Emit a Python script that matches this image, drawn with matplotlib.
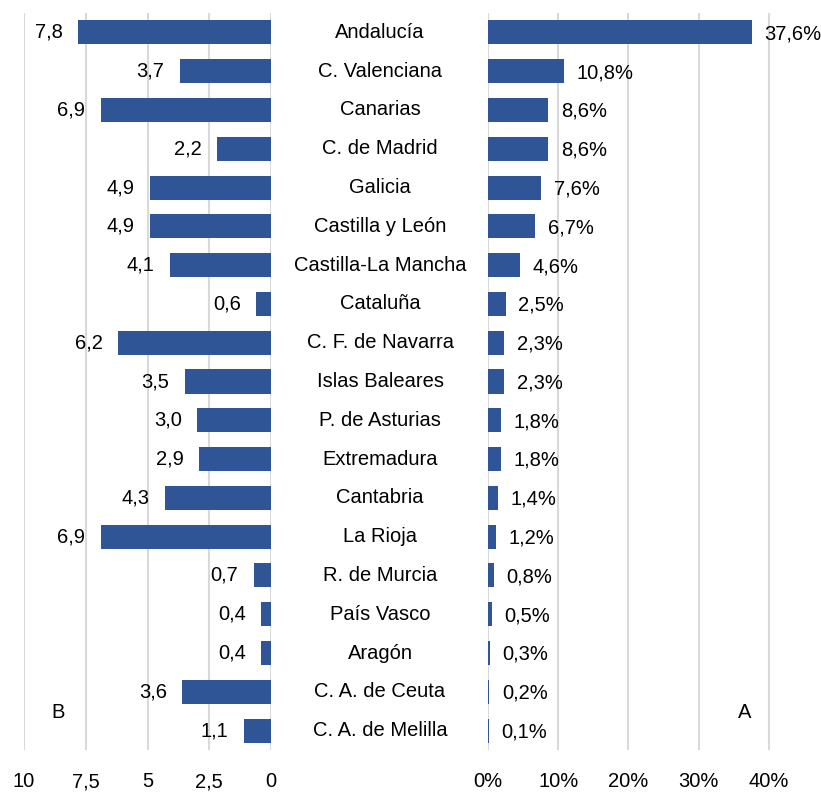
import matplotlib.pyplot as plt
import matplotlib.transforms as mtransforms

plt.rcParams['font.family'] = ['Liberation Sans', 'DejaVu Sans']

regions = ["Andalucía", "C. Valenciana", "Canarias", "C. de Madrid", "Galicia",
           "Castilla y León", "Castilla-La Mancha", "Cataluña", "C. F. de Navarra",
           "Islas Baleares", "P. de Asturias", "Extremadura", "Cantabria", "La Rioja",
           "R. de Murcia", "País Vasco", "Aragón", "C. A. de Ceuta", "C. A. de Melilla"]
val_b = [7.8, 3.7, 6.9, 2.2, 4.9, 4.9, 4.1, 0.6, 6.2, 3.5, 3.0, 2.9, 4.3, 6.9,
         0.7, 0.4, 0.4, 3.6, 1.1]
val_a = [37.6, 10.8, 8.6, 8.6, 7.6, 6.7, 4.6, 2.5, 2.3, 2.3, 1.8, 1.8, 1.4, 1.2,
         0.8, 0.5, 0.3, 0.2, 0.1]
ticks_b = [10, 7.5, 5, 2.5, 0]
ticks_a = [0, 10, 20, 30, 40]

bar_col = '#2F5597'
grid_col = '#D9D9D9'
fs = 14.5

fig = plt.figure(figsize=(8.21, 7.92), dpi=100)
bottom = 1 - 750 / 792
height = 737 / 792
axb = fig.add_axes([24 / 821, bottom, 247 / 821, height])
axa = fig.add_axes([488 / 821, bottom, 309 / 821, height])

y = list(range(len(regions)))

axb.barh(y, val_b, height=0.62, color=bar_col)
axb.set_xlim(10, 0)
axb.set_xticks(ticks_b)
axb.set_xticklabels([str(t).replace('.', ',') for t in ticks_b])
for yi, v in zip(y, val_b):
    axb.annotate(f"{v:.1f}".replace('.', ','), (v, yi), xytext=(-11, 0),
                 textcoords='offset points', ha='right', va='center', fontsize=fs)

axa.barh(y, val_a, height=0.62, color=bar_col)
axa.set_xlim(0, 44)
axa.set_xticks(ticks_a)
axa.set_xticklabels([f"{t}%" for t in ticks_a])
for yi, v in zip(y, val_a):
    axa.annotate(f"{v:.1f}%".replace('.', ','), (v, yi), xytext=(9, -1),
                 textcoords='offset points', ha='left', va='center', fontsize=fs)

for ax in (axb, axa):
    ax.set_ylim(len(regions) - 0.5, -0.5)
    ax.set_yticks([])
    for s in ax.spines.values():
        s.set_visible(False)
    ax.grid(axis='x', color=grid_col, linewidth=1.5)
    ax.set_axisbelow(True)
    ax.tick_params(axis='x', length=0, labelsize=fs, pad=16)

# region names in the middle
trans = mtransforms.blended_transform_factory(fig.transFigure, axb.transData)
for yi, name in zip(y, regions):
    axb.text(380 / 821, yi, name, transform=trans, ha='center', va='center',
             fontsize=fs, clip_on=False)

fig.text(58 / 821, 1 - 712 / 792, "B", ha='center', va='center', fontsize=fs)
fig.text(745 / 821, 1 - 712 / 792, "A", ha='center', va='center', fontsize=fs)

fig.savefig("out.png", dpi=100)
